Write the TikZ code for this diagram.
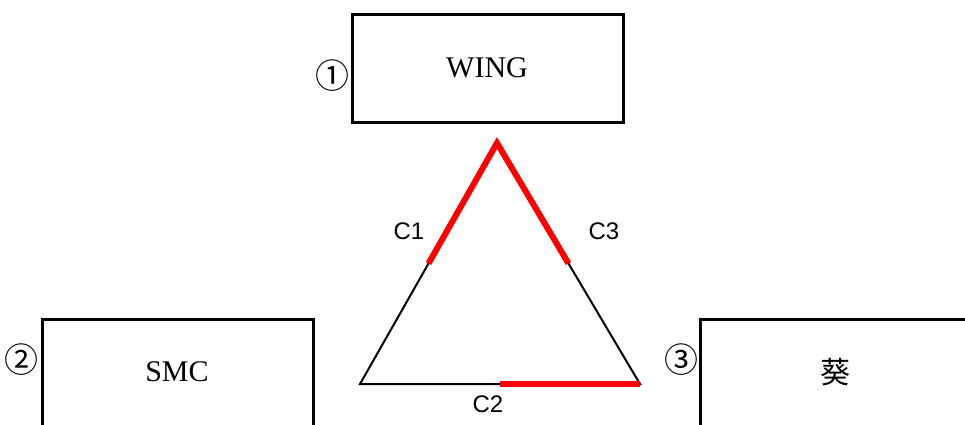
\documentclass[tikz,border=0pt]{standalone}
\usepackage{fontspec}
\setmainfont{Liberation Serif}
\setsansfont{Liberation Sans}
\newfontfamily\cjkfont{Noto Sans CJK JP}
\usetikzlibrary{calc}
\begin{document}
\begin{tikzpicture}[x=1pt,y=-1pt,
  box/.style={draw,line width=2.5pt,minimum width=271pt,minimum height=108pt,inner sep=0pt,anchor=north west},
  boxtext/.style={inner sep=0pt,font=\fontsize{30}{30}\selectfont},
  numlabel/.style={inner sep=0pt,font=\cjkfont\fontsize{34}{34}\selectfont},
  clabel/.style={inner sep=0pt,font=\sffamily\fontsize{24}{24}\selectfont},
  side/.style={line width=2pt,black},
  redside/.style={line width=6pt,red,line join=miter}]
\useasboundingbox (0,0) rectangle (965,424);
\clip (0,0) rectangle (965,424);
\fill[white] (0,0) rectangle (965,424);
% boxes
\node[box] (wing) at (351,13) {};
\node[box] (smc) at (41,318) {};
\node[box] (aoi) at (699,318) {};
\node[boxtext] (wingt) at (487,68) {WING};
\node[boxtext] (smct) at (177,372) {SMC};
\node[boxtext,font=\cjkfont\fontsize{30}{30}\selectfont] (aoit) at (835,372) {葵};
\node[numlabel] (n1) at (332,76) {①};
\node[numlabel] (n2) at (22,360) {②};
\node[numlabel] (n3) at (681,360) {③};
% triangle
\coordinate (A) at (497,143);
\coordinate (L) at (360,384);
\coordinate (R) at (640,384);
\draw[side] (A) -- (L) -- (R) -- cycle;
\coordinate (mAL) at ($(A)!0.5!(L)$);
\coordinate (mAR) at ($(A)!0.5!(R)$);
\coordinate (mLR) at ($(L)!0.5!(R)$);
\draw[redside] (mAL) -- (A) -- (mAR);
\draw[redside] (mLR) -- (R);
\node[clabel] (c1) at (409,231) {C1};
\node[clabel] (c3) at (604,231) {C3};
\node[clabel] (c2) at (488,404) {C2};
\end{tikzpicture}
\end{document}
